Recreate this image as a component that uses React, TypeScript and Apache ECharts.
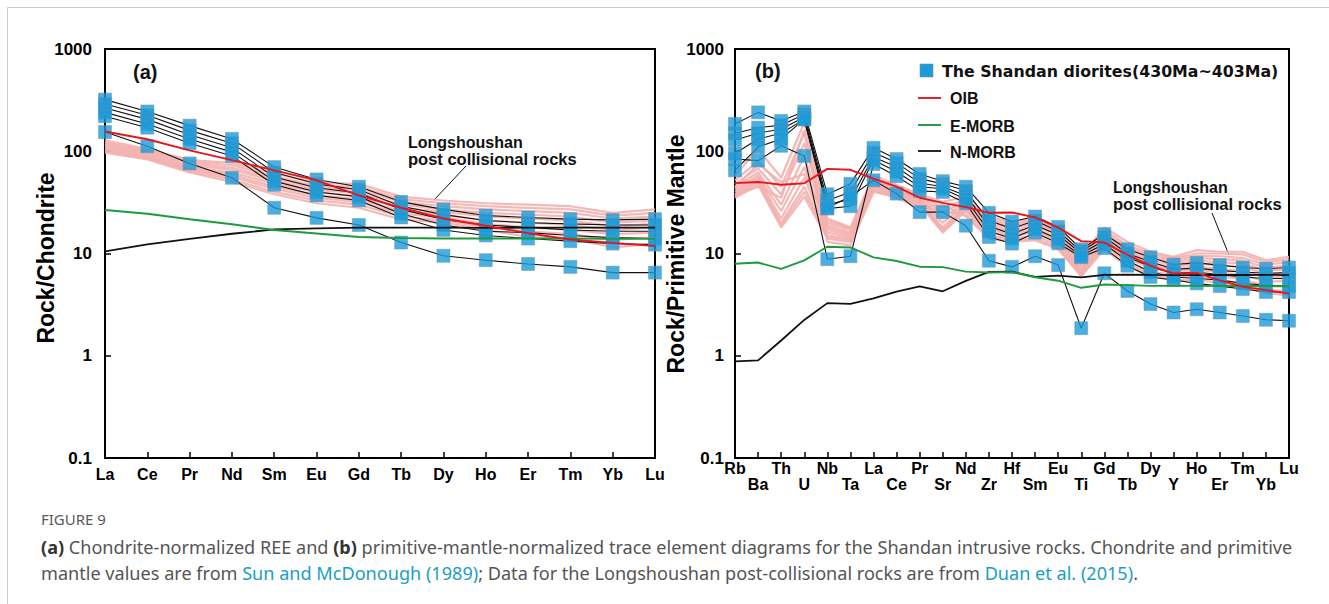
import { useEffect, useRef } from "react";
import * as echarts from "echarts";

// ---- categories ----
const REE = ["La", "Ce", "Pr", "Nd", "Sm", "Eu", "Gd", "Tb", "Dy", "Ho", "Er", "Tm", "Yb", "Lu"];
const TRACE = ["Rb", "Ba", "Th", "U", "Nb", "Ta", "La", "Ce", "Pr", "Sr", "Nd", "Zr", "Hf", "Sm", "Eu", "Ti", "Gd", "Tb", "Dy", "Y", "Ho", "Er", "Tm", "Yb", "Lu"];
const Y_TICKS = [0.1, 1, 10, 100, 1000];

// ---- (a) chondrite-normalized REE: Shandan diorites ----
const reeS1 = [320, 245, 178, 132, 70, 53, 45, 32, 27, 23.5, 22.5, 21.7, 21.3, 21.7];
const reeS2 = [290, 225, 160, 120, 62, 48, 42, 29, 24, 21, 20, 19.5, 19, 19];
const reeS3 = [265, 205, 145, 108, 56, 44, 39, 27, 21.5, 19, 18, 17, 16.5, 16.5];
const reeS4 = [240, 185, 132, 98, 51, 40, 36, 24.5, 19, 16.5, 16, 15, 14.3, 14];
const reeS5 = [220, 170, 120, 90, 47, 37, 33, 22.5, 17, 15, 14, 13.2, 12.5, 12.2];
const reeS6 = [154, 112, 76, 55, 28, 22.3, 19, 12.8, 9.5, 8.6, 7.9, 7.4, 6.5, 6.5];

// ---- (a) reference curves ----
const reeOIB = [156, 131, 102, 82, 65, 52, 37, 28, 22, 18.7, 15.8, 13.7, 12.7, 11.8];
const reeEMORB = [26.6, 24.5, 21.6, 19.3, 17.0, 15.7, 14.5, 14.2, 14.0, 14.0, 14.0, 14.0, 13.9, 13.9];
const reeNMORB = [10.5, 12.3, 13.9, 15.6, 17.2, 17.6, 17.9, 17.9, 17.9, 17.8, 17.9, 17.9, 17.9, 17.9];

// ---- (a) Longshoushan post-collisional rocks ----
const reeL1 = [128, 105, 82, 77, 61, 49, 48, 36, 33, 31, 30, 29, 25, 27];
const reeL2 = [123, 101, 79, 73, 57, 46, 45, 34, 31, 29, 28, 27, 23.5, 25];
const reeL3 = [118, 98, 76, 69, 54, 44, 42, 32, 29, 27, 26, 25, 22, 23];
const reeL4 = [114, 95, 73, 66, 51, 42, 39, 30, 27, 25, 24, 23, 20, 21];
const reeL5 = [110, 92, 70, 62, 48, 40, 36, 28, 25.5, 23, 22, 21, 18.5, 19.5];
const reeL6 = [106, 89, 68, 59, 45, 37, 34, 26, 24, 21, 20, 19, 17, 18];
const reeL7 = [103, 87, 66, 56, 43, 35, 32, 24.5, 22.5, 19.5, 18, 17, 15.5, 16];
const reeL8 = [100, 85, 64, 53, 40, 33, 30, 23, 21, 18, 16.5, 15.5, 13.5, 14.5];
const reeL9 = [97, 83, 62, 50, 38, 31, 28, 21.5, 20, 17, 14.5, 14, 11.5, 12.5];

// ---- (b) primitive-mantle-normalized trace elements: Shandan diorites ----
const trS1 = [185, 240, 198, 245, 38, 48, 108, 84, 60, 51, 45, 25, 20.5, 23, 18.2, 11, 15.5, 11, 9.2, 7.8, 8.1, 7.7, 7.3, 7.1, 7.3];
const trS2 = [150, 170, 180, 230, 33, 40, 97, 77, 54, 48, 41, 21, 17.5, 21, 16.5, 10.5, 14.5, 10, 8.3, 7.0, 7.2, 6.8, 6.6, 6.4, 6.5];
const trS3 = [129, 150, 165, 215, 30, 34, 88, 70, 49, 45, 37, 18.5, 15.5, 19, 15.2, 10, 13.4, 9.3, 7.4, 6.4, 6.6, 6.2, 5.9, 5.7, 5.7];
const trS4 = [95, 132, 150, 205, 27.5, 29, 82, 63, 45, 43, 34, 16.5, 14, 17.5, 13.8, 9.5, 12.4, 8.5, 6.6, 5.9, 5.7, 5.5, 5.1, 4.9, 4.8];
const trS5 = [84, 81, 113, 90, 8.8, 9.4, 75, 57, 41, 40, 31, 14.5, 12.5, 16, 12.6, 9.2, 11.3, 7.6, 5.9, 5.5, 5.1, 4.8, 4.5, 4.2, 4.2];
const trS6 = [65, 110, 132, 205, 28, 36, 52, 38.5, 25.4, 25.4, 18.7, 8.5, 7.4, 9.4, 7.7, 1.86, 6.4, 4.3, 3.2, 2.65, 2.85, 2.65, 2.45, 2.25, 2.2];

// ---- (b) reference curves ----
const trOIB = [48.8, 50.1, 47.1, 48.6, 67.3, 65.9, 53.9, 45.1, 35.1, 31.3, 28.4, 25.0, 25.2, 22.5, 17.9, 13.2, 12.8, 9.72, 7.6, 6.37, 6.46, 5.46, 4.73, 4.38, 4.05];
const trEMORB = [7.94, 8.16, 7.06, 8.57, 11.64, 11.46, 9.17, 8.45, 7.43, 7.35, 6.65, 6.52, 6.57, 5.86, 5.42, 4.62, 4.98, 4.91, 4.82, 4.84, 4.82, 4.81, 4.81, 4.81, 4.78];
const trNMORB = [0.88, 0.9, 1.41, 2.24, 3.27, 3.22, 3.64, 4.23, 4.78, 4.27, 5.39, 6.61, 6.63, 5.92, 6.07, 5.85, 6.17, 6.2, 6.17, 6.15, 6.16, 6.19, 6.16, 6.19, 6.15];

// ---- (b) Longshoushan post-collisional rocks ----
const trL1 = [58, 105, 55, 190, 22, 18, 58, 47, 38, 32, 36, 23, 20, 23, 18, 9.5, 18, 13, 10.4, 9.3, 10.8, 10.4, 10.4, 8.6, 9.3];
const trL2 = [52, 80, 45, 150, 20, 17, 55, 45, 37, 28, 34, 22, 19, 22, 17, 9, 17, 12, 10, 9, 10, 10, 9.8, 8.2, 8.8];
const trL3 = [48, 68, 38, 120, 19, 16, 52, 44, 36, 25, 33, 21, 18, 21, 16, 8.5, 16, 11.5, 9.5, 8.6, 9.5, 9.4, 9, 7.8, 8.2];
const trL4 = [45, 62, 30, 90, 18, 15.5, 50, 42, 35, 22, 32, 20, 17.5, 20, 15.5, 8, 15.5, 11, 9, 8.2, 9, 8.8, 8.5, 7.3, 7.6];
const trL5 = [42, 58, 26, 70, 17, 15, 48, 41, 34, 20, 30, 19, 16.5, 19, 15, 7.5, 15, 10.5, 8.5, 7.8, 8.5, 8.2, 8, 6.8, 7];
const trL6 = [40, 55, 22, 55, 16, 14.5, 46, 40, 33, 18, 29, 18, 16, 18, 14, 7, 14, 10, 8, 7.4, 8, 7.6, 7.4, 6.3, 6.5];
const trL7 = [38, 52, 20, 45, 15, 14, 45, 39, 32, 17, 28, 17, 15.5, 17, 13.5, 6.8, 13.5, 9.5, 7.6, 7, 7.5, 7, 6.8, 5.8, 6];
const trL8 = [36, 50, 19, 40, 14.5, 13.5, 43, 38, 31, 16.5, 27, 16, 15, 16, 13, 6.5, 13, 9, 7.2, 6.6, 7, 6.5, 6.2, 5.3, 5.4];
const trL9 = [35, 47, 18, 36, 14, 13, 42, 37, 30, 16, 26, 15, 14, 15, 12, 6.3, 12.5, 8.5, 6.6, 6.2, 6.4, 6, 5.6, 4.8, 4.8];
const trL10 = [37, 45, 35, 160, 13, 12, 40, 36, 29, 26, 24, 14.5, 13.5, 14, 11.5, 6.1, 12, 8, 6.2, 5.8, 6, 5.5, 5.1, 4.4, 4.3];
const trL11 = [44, 75, 50, 60, 21, 17.5, 41, 35, 28, 30, 23, 14, 13, 13.5, 11, 6, 11, 7.5, 6, 5.5, 5.5, 5.2, 4.7, 4.1, 3.9];

const reeSamples = [reeS1, reeS2, reeS3, reeS4, reeS5, reeS6];
const reeField = [reeL1, reeL2, reeL3, reeL4, reeL5, reeL6, reeL7, reeL8, reeL9];
const trSamples = [trS1, trS2, trS3, trS4, trS5, trS6];
const trField = [trL1, trL2, trL3, trL4, trL5, trL6, trL7, trL8, trL9, trL10, trL11];

// ---- caption ----
const CAPTION_TITLE = "FIGURE 9";
const CAPTION_LINE1 =
  "{b|(a)} Chondrite-normalized REE and {b|(b)} primitive-mantle-normalized trace element diagrams for the Shandan intrusive rocks. Chondrite and primitive";
const CAPTION_LINE2 =
  "mantle values are from {l|Sun and McDonough (1989)}; Data for the Longshoushan post-collisional rocks are from {l|Duan et al. (2015)}.";

const FONT = "'Liberation Sans', Arial, sans-serif";
const CAP_FONT = "'Noto Sans', sans-serif";
const CAP_SIZE = 18.1;
const BLUE = "#1c9bd8";
const PINK = "#f3b0ae";
const RED = "#e8151c";
const GREEN = "#1e9a3e";

function panelSeries(idx: number, samples: number[][], field: number[][], oib: number[], emorb: number[], nmorb: number[]) {
  const s: any[] = [];
  field.forEach((d, i) => {
    s.push({
      name: `field-${idx}-${i}`, type: "line", xAxisIndex: idx, yAxisIndex: idx, data: d,
      symbol: "none", z: 1, silent: true,
      lineStyle: { color: PINK, width: 2.2, opacity: 0.9 },
    });
  });
  samples.forEach((d, i) => {
    s.push({
      name: `sample-line-${idx}-${i}`, type: "line", xAxisIndex: idx, yAxisIndex: idx, data: d,
      symbol: "none", z: 2, silent: true,
      lineStyle: { color: "#111", width: 1.1 },
    });
  });
  samples.forEach((d, i) => {
    s.push({
      name: `sample-pt-${idx}-${i}`, type: "scatter", xAxisIndex: idx, yAxisIndex: idx, data: d,
      symbol: "rect", symbolSize: 13, z: 3, silent: true,
      itemStyle: { color: BLUE, borderColor: "#6f93ad", borderWidth: 0.6 },
    });
  });
  const refs: [number[], string, number][] = [[nmorb, "#111", 1.8], [emorb, GREEN, 1.9], [oib, RED, 1.9]];
  refs.forEach(([d, c, w], i) => {
    s.push({
      name: `ref-${idx}-${i}`, type: "line", xAxisIndex: idx, yAxisIndex: idx, data: d,
      symbol: "none", z: 4, silent: true,
      lineStyle: { color: c, width: w },
    });
  });
  return s;
}

function yAxis(idx: number, margin: number) {
  return {
    type: "log", logBase: 10, gridIndex: idx, min: 0.1, max: 1000, splitNumber: 4,
    axisLine: { show: true, lineStyle: { color: "#000", width: 2 } },
    axisTick: { show: true, inside: true, length: 6, lineStyle: { color: "#000", width: 1.5 } },
    minorTick: { show: false },
    splitLine: { show: false },
    axisLabel: {
      fontFamily: FONT, fontWeight: "bold", fontSize: 17, color: "#000", margin,
      formatter: (v: number) => {
        const t = Y_TICKS.find((k) => Math.abs(Math.log10(k) - Math.log10(v)) < 1e-6);
        return t === undefined ? "" : String(t);
      },
    },
  };
}

function axisTitle(text: string, x: number, y: number) {
  return {
    type: "text", x, y, rotation: Math.PI / 2, silent: true,
    style: { text, font: `bold 23px ${FONT}`, fill: "#000", textAlign: "center", textVerticalAlign: "middle" },
  };
}

export default function App() {
  const ref = useRef<HTMLDivElement>(null);
  useEffect(() => {
    if (!ref.current) return;
    const chart = echarts.init(ref.current, undefined, { renderer: "svg" });
    const labelBase = { fontFamily: FONT, fontWeight: "bold", fontSize: 16, color: "#000" };
    const option: any = {
      animation: false,
      backgroundColor: "#fff",
      grid: [
        { left: 105, top: 49, width: 550, height: 409, show: true, borderColor: "#000", borderWidth: 2 },
        { left: 735, top: 49, width: 554, height: 409, show: true, borderColor: "#000", borderWidth: 2 },
      ],
      xAxis: [
        {
          type: "category", gridIndex: 0, data: REE, boundaryGap: false,
          axisLine: { show: true, lineStyle: { color: "#000", width: 2 } },
          axisTick: { show: true, inside: true, length: 6, interval: 0, lineStyle: { color: "#000", width: 1.5 } },
          axisLabel: { ...labelBase, interval: 0, margin: 8 },
          splitLine: { show: false },
        },
        {
          type: "category", gridIndex: 1, data: TRACE, boundaryGap: false,
          axisLine: { show: true, lineStyle: { color: "#000", width: 2 } },
          axisTick: { show: true, inside: true, length: 6, interval: 0, lineStyle: { color: "#000", width: 1.5 } },
          axisLabel: {
            interval: 0, margin: 2, hideOverlap: false,
            formatter: (v: string, i: number) => (i % 2 === 0 ? `{hi|${v}}` : `{lo|${v}}`),
            rich: {
              hi: { ...labelBase },
              lo: { ...labelBase, padding: [16, 0, 0, 0] },
            },
          },
          splitLine: { show: false },
        },
      ],
      yAxis: [yAxis(0, 13), yAxis(1, 11)],
      series: [
        ...panelSeries(0, reeSamples, reeField, reeOIB, reeEMORB, reeNMORB),
        ...panelSeries(1, trSamples, trField, trOIB, trEMORB, trNMORB),
      ],
      graphic: [
        // page frame
        { type: "line", shape: { x1: 7.5, y1: 7.5, x2: 1329, y2: 7.5 }, style: { stroke: "#c9c9c9", lineWidth: 1 }, silent: true },
        { type: "line", shape: { x1: 7.5, y1: 7.5, x2: 7.5, y2: 604 }, style: { stroke: "#c9c9c9", lineWidth: 1 }, silent: true },
        // axis titles
        axisTitle("Rock/Chondrite", 46, 258),
        axisTitle("Rock/Primitive Mantle", 676, 254),
        // panel tags
        { type: "text", x: 133, y: 72, style: { text: "(a)", font: `bold 20px ${FONT}`, fill: "#111", textVerticalAlign: "middle" } },
        { type: "text", x: 755, y: 71, style: { text: "(b)", font: `bold 20px ${FONT}`, fill: "#111", textVerticalAlign: "middle" } },
        // field annotations
        { type: "text", x: 408, y: 142, style: { text: "Longshoushan", font: `bold 16px ${FONT}`, fill: "#111", textVerticalAlign: "middle" } },
        { type: "text", x: 408, y: 159, style: { text: "post collisional rocks", font: `bold 16.5px ${FONT}`, fill: "#111", textVerticalAlign: "middle" } },
        { type: "line", shape: { x1: 466, y1: 166, x2: 434, y2: 200 }, style: { stroke: "#111", lineWidth: 1 } },
        { type: "text", x: 1113, y: 187, style: { text: "Longshoushan", font: `bold 16px ${FONT}`, fill: "#111", textVerticalAlign: "middle" } },
        { type: "text", x: 1113, y: 204, style: { text: "post collisional rocks", font: `bold 16.5px ${FONT}`, fill: "#111", textVerticalAlign: "middle" } },
        { type: "line", shape: { x1: 1212, y1: 213, x2: 1229, y2: 255 }, style: { stroke: "#111", lineWidth: 1 } },
        // legend
        { type: "rect", shape: { x: 920, y: 64, width: 13, height: 13 }, style: { fill: BLUE, stroke: "#6f93ad", lineWidth: 0.6 } },
        { type: "text", x: 942, y: 71, style: { text: "The Shandan diorites(430Ma~403Ma)", font: `bold 15.8px 'DejaVu Sans', sans-serif`, fill: "#111", textVerticalAlign: "middle" } },
        { type: "line", shape: { x1: 918, y1: 98, x2: 941, y2: 98 }, style: { stroke: RED, lineWidth: 1.9 } },
        { type: "text", x: 950, y: 98, style: { text: "OIB", font: `bold 16px ${FONT}`, fill: "#111", textVerticalAlign: "middle" } },
        { type: "line", shape: { x1: 918, y1: 125, x2: 941, y2: 125 }, style: { stroke: GREEN, lineWidth: 1.9 } },
        { type: "text", x: 950, y: 126, style: { text: "E-MORB", font: `bold 16px ${FONT}`, fill: "#111", textVerticalAlign: "middle" } },
        { type: "line", shape: { x1: 918, y1: 151, x2: 941, y2: 151 }, style: { stroke: "#111", lineWidth: 1.8 } },
        { type: "text", x: 950, y: 152, style: { text: "N-MORB", font: `bold 16px ${FONT}`, fill: "#111", textVerticalAlign: "middle" } },
        // caption
        { type: "text", x: 41, y: 519, style: { text: CAPTION_TITLE, font: `15px ${CAP_FONT}`, fill: "#5a5a5a", textVerticalAlign: "middle" } },
        {
          type: "text", x: 41, y: 547,
          style: {
            text: CAPTION_LINE1,
            font: `${CAP_SIZE}px ${CAP_FONT}`, fill: "#555", textVerticalAlign: "middle",
            rich: { b: { font: `bold ${CAP_SIZE}px ${CAP_FONT}`, fill: "#333" } },
          },
        },
        {
          type: "text", x: 41, y: 573,
          style: {
            text: CAPTION_LINE2,
            font: `${CAP_SIZE}px ${CAP_FONT}`, fill: "#555", textVerticalAlign: "middle",
            rich: { l: { font: `${CAP_SIZE}px ${CAP_FONT}`, fill: "#1a9ec4" } },
          },
        },
      ],
    };
    chart.setOption(option);
    return () => chart.dispose();
  }, []);
  return <div ref={ref} style={{ position: "absolute", left: 0, top: 0, width: 1329, height: 604 }} />;
}
